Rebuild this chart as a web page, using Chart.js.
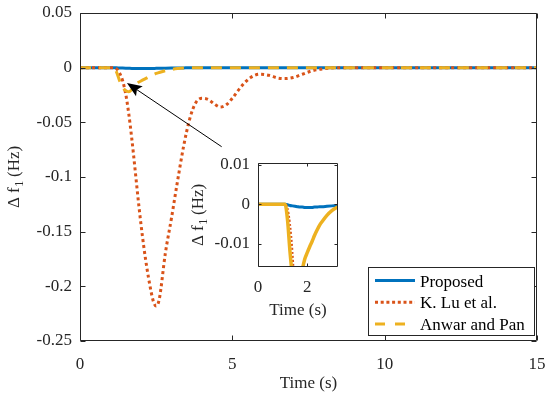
<!DOCTYPE html>
<html>
<head>
<meta charset="utf-8">
<script src="https://cdn.jsdelivr.net/npm/chart.js@4.4.1/dist/chart.umd.min.js"></script>
<style>
  html, body { margin: 0; padding: 0; background: #fff; }
  #wrap { position: relative; width: 550px; height: 398px; }
  #main { position: absolute; left: 0; top: 0; width: 550px; height: 398px; }
  #inset { position: absolute; left: 180px; top: 150px; width: 170px; height: 175px; }
</style>
</head>
<body>
<div id="wrap">
  <canvas id="main" width="550" height="398"></canvas>
  <canvas id="inset" width="170" height="175"></canvas>
</div>
<script>
// --- values -----------------------------------------------------------------
const tSec = [0, 0.5, 1.0, 1.1, 1.2, 1.3, 1.4, 1.5, 1.6, 1.7, 1.8, 1.9, 2.0, 2.1, 2.2, 2.3, 2.4, 2.5,
  2.6, 2.8, 3.0, 3.2, 3.4, 3.6, 3.8, 4.0, 4.2, 4.4, 4.6, 4.8, 5.0, 5.3, 5.6, 5.9, 6.2, 6.5, 6.7,
  7.0, 7.3, 7.6, 8.0, 8.5, 9.0, 10, 11, 12, 13, 14, 15];

const proposed = [0, 0, 0, 0, -0.0001, -0.0003, -0.0004, -0.0005, -0.0006, -0.0007, -0.0007, -0.0008,
  -0.0008, -0.0008, -0.0008, -0.0007, -0.0007, -0.0006, -0.0006, -0.0005, -0.0004, -0.0003, -0.0002,
  -0.0001, -0.0001, 0, 0, 0, 0, 0, 0, 0, 0, 0, 0, 0, 0, 0, 0, 0, 0, 0, 0, 0, 0, 0, 0, 0, 0];

const kLu = [0, 0, 0, 0, -0.001, -0.005, -0.012, -0.024, -0.042, -0.065, -0.091, -0.118, -0.143,
  -0.165, -0.184, -0.2, -0.213, -0.218, -0.212, -0.17, -0.138, -0.104, -0.072, -0.047, -0.032, -0.028,
  -0.029, -0.033, -0.036, -0.034, -0.028, -0.017, -0.009, -0.006, -0.007, -0.0095, -0.010,
  -0.009, -0.006, -0.003, -0.001, 0, 0, 0, 0, 0, 0, 0, 0];

const anwarPan = [0, 0, 0, 0, -0.004, -0.012, -0.018, -0.021, -0.022, -0.02, -0.0165, -0.0138, -0.0122,
  -0.0107, -0.0093, -0.0078, -0.0065, -0.0053, -0.0044, -0.0028, -0.0016, -0.0008, -0.0003, -0.0001,
  0, 0, 0, 0, 0, 0, 0, 0, 0, 0, 0, 0, 0, 0, 0, 0, 0, 0, 0, 0, 0, 0, 0, 0, 0];

const seriesNames = ['Proposed', 'K. Lu et al.', 'Anwar and Pan'];

const mainXTicks = [0, 5, 10, 15];
const mainYTicks = [0.05, 0, -0.05, -0.1, -0.15, -0.2, -0.25];
const insetXTicks = [0, 2];
const insetYTicks = [0.01, 0, -0.01];

// arrow annotation, in data units (tail -> tip)
const arrowTail = [4.65, -0.0723];
const arrowTip = [1.54, -0.014];

// --- styling ------------------------------------------------------------------
const INK = '#262626';
const FONT = "'Liberation Serif', 'Times New Roman', serif";
const FS = 17;
const fmt = v => String(Math.round(v * 1e4) / 1e4);

function makeDatasets(inset) {
  const pts = arr => tSec.map((t, i) => ({ x: t, y: arr[i] }));
  const base = { pointRadius: 0, fill: false, borderWidth: 3, cubicInterpolationMode: 'monotone', borderCapStyle: 'butt' };
  return [
    { ...base, label: seriesNames[0], data: pts(proposed), borderColor: '#0072BD', order: 3 },
    { ...base, label: seriesNames[1], data: pts(kLu), borderColor: '#D95319', order: 2,
      borderDash: inset ? [2, 2] : [3, 3], borderWidth: inset ? 2 : 3, legendDash: [3, 2.7] },
    { ...base, label: seriesNames[2], data: pts(anwarPan), borderColor: '#EDB120', order: 1,
      borderDash: inset ? [] : [11, 8], borderWidth: inset ? 3.5 : 3, legendDash: [10, 10] },
  ];
}

function makeScales(o) {
  const tickFont = { family: FONT, size: FS };
  return {
    x: {
      type: 'linear', min: o.xMin, max: o.xMax,
      grid: { display: false, drawTicks: false }, border: { display: false },
      afterBuildTicks: s => { s.ticks = o.xTicks.map(value => ({ value })); },
      afterFit: s => { s.height = o.xH; s.paddingLeft = 0; s.paddingRight = 0; },
      ticks: { color: INK, font: tickFont, padding: o.xPad, maxRotation: 0, autoSkip: false, callback: fmt },
    },
    y: {
      type: 'linear', min: o.yMin, max: o.yMax,
      grid: { display: false, drawTicks: false }, border: { display: false },
      afterBuildTicks: s => { s.ticks = o.yTicks.map(value => ({ value })); },
      afterFit: s => { s.width = o.yW; s.paddingTop = 0; s.paddingBottom = 0; },
      ticks: { color: INK, font: tickFont, padding: o.yPad, autoSkip: false, callback: fmt },
    },
  };
}

// MATLAB-like box with inward ticks + axis titles (y title has subscript)
function framePlugin(o) {
  return {
    id: 'frame',
    beforeDraw(chart) {
      const a = chart.chartArea, ctx = chart.ctx;
      ctx.save();
      ctx.fillStyle = '#fff';
      ctx.fillRect(a.left, a.top, a.right - a.left, a.bottom - a.top);
      ctx.restore();
    },
    afterDatasetsDraw(chart) {
      const { ctx, chartArea: a, scales: { x, y } } = chart;
      const L = Math.round(a.left) + 0.5, R = Math.round(a.right) - 0.5;
      const T = Math.round(a.top) + 0.5, B = Math.round(a.bottom) - 0.5;
      ctx.save();
      ctx.strokeStyle = INK; ctx.lineWidth = 1;
      ctx.beginPath();
      ctx.rect(L, T, R - L, B - T);
      for (const t of x.ticks) {
        const px = Math.round(x.getPixelForValue(t.value)) + 0.5;
        ctx.moveTo(px, B); ctx.lineTo(px, B - o.tick);
        ctx.moveTo(px, T); ctx.lineTo(px, T + o.tick);
      }
      for (const t of y.ticks) {
        const py = Math.round(y.getPixelForValue(t.value)) + 0.5;
        ctx.moveTo(L, py); ctx.lineTo(L + o.tick, py);
        ctx.moveTo(R, py); ctx.lineTo(R - o.tick, py);
      }
      ctx.stroke();

      ctx.fillStyle = INK;
      ctx.font = `${FS}px ${FONT}`;
      ctx.textAlign = 'center'; ctx.textBaseline = 'alphabetic';
      ctx.fillText('Time (s)', (a.left + a.right) / 2, o.xTitleY);

      // "Δ f₁ (Hz)" rotated
      const subFont = `${Math.round(FS * 0.7)}px ${FONT}`;
      const p1 = 'Δ f', p2 = '1', p3 = ' (Hz)';
      const w1 = ctx.measureText(p1).width, w3 = ctx.measureText(p3).width;
      ctx.font = subFont; const w2 = ctx.measureText(p2).width;
      const total = w1 + w2 + w3;
      ctx.translate(o.yTitleX, (a.top + a.bottom) / 2);
      ctx.rotate(-Math.PI / 2);
      ctx.textAlign = 'left';
      let cx = -total / 2;
      ctx.font = `${FS}px ${FONT}`; ctx.fillText(p1, cx, 0); cx += w1;
      ctx.font = subFont; ctx.fillText(p2, cx + 0.5, 4); cx += w2;
      ctx.font = `${FS}px ${FONT}`; ctx.fillText(p3, cx, 0);
      ctx.restore();
    },
  };
}

const arrowPlugin = {
  id: 'arrow',
  afterDatasetsDraw(chart) {
    const { ctx, scales: { x, y } } = chart;
    const x0 = x.getPixelForValue(arrowTail[0]), y0 = y.getPixelForValue(arrowTail[1]);
    const x1 = x.getPixelForValue(arrowTip[0]), y1 = y.getPixelForValue(arrowTip[1]);
    const ang = Math.atan2(y1 - y0, x1 - x0);
    const c = Math.cos(ang), s = Math.sin(ang);
    const len = 15, half = 6;
    const bx = x1 - len * c, by = y1 - len * s;
    const nbx = x1 - 0.8 * len * c, nby = y1 - 0.8 * len * s;
    ctx.save();
    ctx.strokeStyle = '#000'; ctx.fillStyle = '#000'; ctx.lineWidth = 1;
    ctx.beginPath(); ctx.moveTo(x0, y0); ctx.lineTo(nbx, nby); ctx.stroke();
    ctx.beginPath();
    ctx.moveTo(x1, y1);
    ctx.lineTo(bx - half * s, by + half * c);
    ctx.lineTo(nbx, nby);
    ctx.lineTo(bx + half * s, by - half * c);
    ctx.closePath(); ctx.fill();
    ctx.restore();
  },
};

const legendPlugin = {
  id: 'boxLegend',
  afterDraw(chart) {
    const { ctx, chartArea: a } = chart;
    const w = 166, h = 68;
    const right = Math.round(a.right) - 3, bottom = Math.round(a.bottom) - 6;
    const left = right - w, top = bottom - h;
    ctx.save();
    ctx.fillStyle = '#fff'; ctx.fillRect(left, top, w, h);
    ctx.strokeStyle = INK; ctx.lineWidth = 1; ctx.strokeRect(left + 0.5, top + 0.5, w, h);
    ctx.font = `${FS}px ${FONT}`; ctx.textAlign = 'left'; ctx.textBaseline = 'alphabetic';
    chart.data.datasets.forEach((ds, i) => {
      const yy = top + 13.5 + i * 21.7;
      ctx.strokeStyle = ds.borderColor; ctx.lineWidth = 3; ctx.lineCap = 'butt';
      ctx.setLineDash(ds.legendDash || []);
      ctx.beginPath(); ctx.moveTo(left + 7, yy); ctx.lineTo(left + 47, yy); ctx.stroke();
      ctx.setLineDash([]);
      ctx.fillStyle = '#000';
      ctx.fillText(ds.label, left + 52, yy + 6);
    });
    ctx.restore();
  },
};

// --- main plot ---------------------------------------------------------------
new Chart(document.getElementById('main'), {
  type: 'line',
  data: { datasets: makeDatasets(false) },
  options: {
    responsive: false, animation: false, events: [],
    layout: { padding: { top: 13, right: 13, left: 0, bottom: 0 } },
    plugins: { legend: { display: false }, tooltip: { enabled: false } },
    scales: makeScales({
      xMin: 0, xMax: 15, yMin: -0.25, yMax: 0.05,
      xTicks: mainXTicks, yTicks: mainYTicks,
      xH: 57, yW: 80, xPad: 13, yPad: 8,
    }),
  },
  plugins: [framePlugin({ tick: 5, xTitleY: 388, yTitleX: 19 }), arrowPlugin, legendPlugin],
});

// --- zoomed inset ------------------------------------------------------------
new Chart(document.getElementById('inset'), {
  type: 'line',
  data: { datasets: makeDatasets(true) },
  options: {
    responsive: false, animation: false, events: [],
    layout: { padding: { top: 13, right: 12, left: 0, bottom: 0 } },
    plugins: { legend: { display: false }, tooltip: { enabled: false } },
    scales: makeScales({
      xMin: 0, xMax: 3.25, yMin: -0.0158, yMax: 0.0104,
      xTicks: insetXTicks, yTicks: insetYTicks,
      xH: 58, yW: 78, xPad: 10, yPad: 8,
    }),
  },
  plugins: [framePlugin({ tick: 3, xTitleY: 165, yTitleX: 23 })],
});
</script>
</body>
</html>
